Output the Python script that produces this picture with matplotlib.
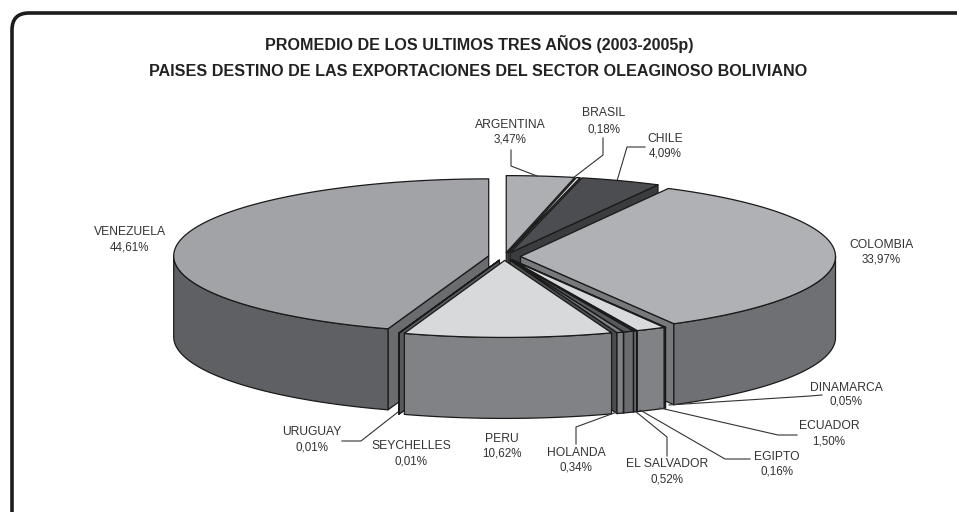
import numpy as np
import matplotlib
matplotlib.use('Agg')
import matplotlib.pyplot as plt
from matplotlib.patches import PathPatch
from matplotlib.path import Path

plt.rcParams['font.family'] = ['Liberation Sans', 'DejaVu Sans']

# data, in drawing order (clockwise from 12 o'clock)
paises = ['ARGENTINA', 'BRASIL', 'CHILE', 'COLOMBIA', 'DINAMARCA', 'ECUADOR', 'EGIPTO',
          'EL SALVADOR', 'HOLANDA', 'PERU', 'SEYCHELLES', 'URUGUAY', 'VENEZUELA']
valores = [3.47, 0.18, 4.09, 33.97, 0.05, 1.50, 0.16, 0.52, 0.34, 10.62, 0.01, 0.01, 44.61]

# colours: top, wall, cut face
c_top = ['#adafb2', '#e8e8e8', '#4b4d50', '#afb1b4', '#555759', '#d8dadc', '#3a3c3e',
         '#58595b', '#808285', '#d7d9db', '#58595b', '#333333', '#a1a3a6']
c_wall = ['#6e7073', '#58595b', '#3a3c3e', '#6e7073', '#a0a2a5', '#808285', '#6a6c6f',
          '#6a6c6f', '#808285', '#808285', '#58595b', '#333333', '#5e6063']
c_face = ['#77797c', '#58595b', '#3a3c3f', '#77797c', '#8a8c8f', '#5c5e61', '#333537',
          '#77797c', '#4a4c4e', '#808285', '#58595b', '#4a4c4e', '#6a6c6f']

# label placement in pixels: centre x, y of name line, y of value line
label_pos = [(510, 125, 140), (604, 113, 129), (665, 139, 153), (881, 245, 260), (846, 388, 402),
             (829, 426, 441), (777, 457, 472), (667, 464, 479), (576, 453, 468), (502, 439, 454),
             (411, 446, 461), (312, 432, 447), (130, 232, 247)]

leaders = [
    [(511, 150), (511, 166), (537, 176)],
    [(603, 138), (603, 155), (573, 178)],
    [(645, 147), (627, 147), (617, 181)],
    [(669, 405), (810, 396), (822, 395)],
    [(660, 408), (778, 435), (797, 435)],
    [(640, 410), (725, 459), (750, 459)],
    [(635, 411), (667, 437), (667, 456)],
    [(617, 412), (576, 427), (576, 444)],
    [(398, 412), (361, 441), (342, 441)],
]

# pie geometry, pixels
CX, CY = 504.5, 256.5
RX, RY = 315.0, 77.0
DEPTH = 81.0
EXPLODE = 16.0
EDGE = '#1a1a1a'


def rim(theta, ox, oy, dz=0.0):
    return ox + RX * np.sin(theta), oy - RY * np.cos(theta) + dz


def poly(ax, xs, ys, color, z):
    ax.fill(xs, ys, facecolor=color, edgecolor=EDGE, linewidth=0.9, joinstyle='round', zorder=z)


def draw_slice(ax, a0, a1, top, wall, face, z):
    mid = (a0 + a1) / 2.0
    ox = CX + EXPLODE * np.sin(mid)
    oy = CY - EXPLODE * RY / RX * np.cos(mid)

    # cut faces
    if np.sin(a0) < 0:
        x, y = rim(a0, ox, oy)
        poly(ax, [ox, x, x, ox], [oy, y, y + DEPTH, oy + DEPTH], face, z)
    if np.sin(a1) > 0:
        x, y = rim(a1, ox, oy)
        poly(ax, [ox, x, x, ox], [oy, y, y + DEPTH, oy + DEPTH], face, z)

    # outer wall, front half only
    w0, w1 = max(a0, np.pi / 2), min(a1, 3 * np.pi / 2)
    if w1 > w0:
        th = np.linspace(w0, w1, 80)
        x, y = rim(th, ox, oy)
        poly(ax, np.r_[x, x[::-1]], np.r_[y, y[::-1] + DEPTH], wall, z)

    # top
    th = np.linspace(a0, a1, 160)
    x, y = rim(th, ox, oy)
    poly(ax, np.r_[ox, x], np.r_[oy, y], top, z)


fig = plt.figure(figsize=(9.57, 5.12), dpi=100)
ax = fig.add_axes([0, 0, 1, 1])
ax.set_xlim(0, 957)
ax.set_ylim(512, 0)
ax.axis('off')

# rounded frame: left and top only, it runs off the page
frame = Path([(12, 512), (12, 30), (12, 13), (29, 13), (957, 13)],
             [Path.MOVETO, Path.LINETO, Path.CURVE3, Path.CURVE3, Path.LINETO])
ax.add_patch(PathPatch(frame, fill=False, edgecolor='#1c1c1c', linewidth=2.6, zorder=1))

ax.text(479, 44, 'PROMEDIO DE LOS ULTIMOS TRES AÑOS (2003-2005p)', ha='center', va='center',
        fontsize=11.6, fontweight='bold', color='#222222')
ax.text(478, 72, 'PAISES DESTINO DE LAS EXPORTACIONES DEL SECTOR OLEAGINOSO BOLIVIANO', ha='center',
        va='center', fontsize=11.6, fontweight='bold', color='#222222')

fracs = np.array(valores) / sum(valores)
edges = np.r_[0, np.cumsum(fracs)] * 2 * np.pi

# back slices first
order = sorted(range(len(valores)), key=lambda i: -np.cos((edges[i] + edges[i + 1]) / 2))
for z, i in enumerate(order):
    draw_slice(ax, edges[i], edges[i + 1], c_top[i], c_wall[i], c_face[i], 2 + z)

for pts in leaders:
    ax.plot(*zip(*pts), color='#333333', linewidth=0.8, zorder=30)

for nombre, v, (x, y1, y2) in zip(paises, valores, label_pos):
    ax.text(x, y1, nombre, ha='center', va='center', fontsize=8.7, color='#333333', zorder=31)
    ax.text(x, y2, '{:.2f}%'.format(v).replace('.', ','), ha='center', va='center', fontsize=8.4,
            color='#333333', zorder=31)

fig.savefig('out.png', dpi=100)
